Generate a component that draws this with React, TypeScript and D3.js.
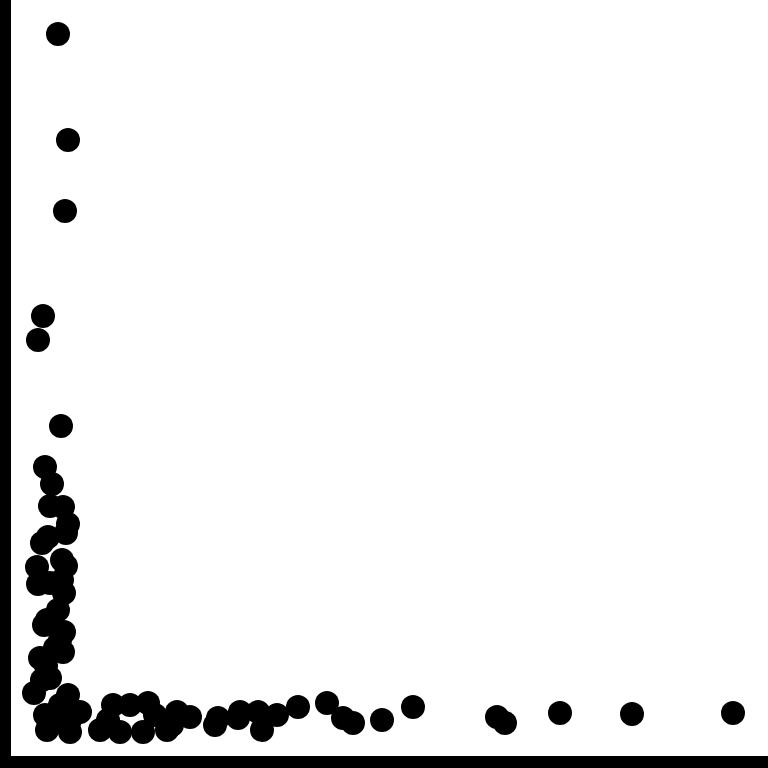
import * as d3 from 'd3';
import { useRef, useEffect } from 'react';

// point values (arbitrary units, origin at the axes corner)
const xValues = [
  47, 57, 54, 32, 27, 50, 34, 41, 39, 52, 57, 55, 31, 37, 26, 51, 55, 27, 39, 51,
  53, 36, 47, 33, 53, 49, 44, 29, 52, 35, 31, 39, 23, 57, 49, 34, 47, 69, 59, 36,
  59, 89, 102, 97, 109, 119, 137, 132, 144, 156, 166, 161, 179, 204, 207, 229, 227, 251, 247, 266,
  287, 316, 332, 342, 371, 402, 486, 494, 549, 621, 722,
];
const yValues = [
  722, 616, 545, 440, 416, 330, 289, 272, 250, 249, 232, 223, 213, 219, 189, 196, 190, 172, 173, 176,
  163, 136, 146, 131, 124, 116, 108, 98, 104, 90, 76, 78, 63, 61, 51, 41, 38, 44, 36, 26,
  24, 26, 51, 36, 24, 51, 53, 24, 41, 26, 44, 31, 39, 31, 38, 44, 38, 26, 44, 41,
  49, 53, 38, 33, 36, 49, 39, 33, 43, 42, 43,
];

const W = 768;
const H = 768;

const Scatter: React.FC = () => {
  const ref = useRef<SVGSVGElement>(null);

  useEffect(() => {
    if (!ref.current) return;
    const svg = d3.select(ref.current);
    svg.selectAll('*').remove();

    const left = 11;
    const bottom = 756;
    const x = d3.scaleLinear().domain([0, 757]).range([left, W]);
    const y = d3.scaleLinear().domain([0, 756]).range([bottom, 0]);

    const data = xValues.map((v, i) => ({ x: v, y: yValues[i] }));

    svg.append('rect').attr('width', W).attr('height', H).attr('fill', '#fff');

    svg.append('g')
      .selectAll('circle')
      .data(data)
      .join('circle')
      .attr('cx', d => x(d.x))
      .attr('cy', d => y(d.y))
      .attr('r', 12)
      .attr('fill', '#000');

    // thick axis lines
    svg.append('rect').attr('x', 0).attr('y', 0).attr('width', left).attr('height', H).attr('fill', '#000');
    svg.append('rect').attr('x', 0).attr('y', bottom).attr('width', W).attr('height', H - bottom).attr('fill', '#000');
  }, []);

  return <svg ref={ref} width={W} height={H} style={{ position: 'fixed', top: 0, left: 0 }}></svg>;
};

export default function App() {
  return <Scatter />;
}
